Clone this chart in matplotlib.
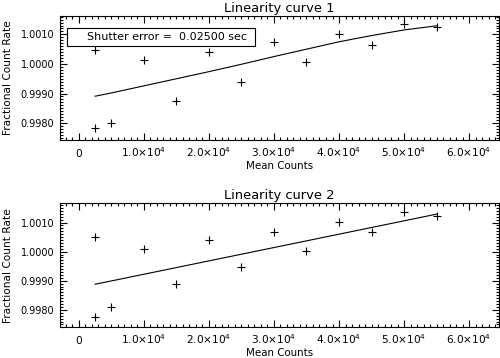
import matplotlib
matplotlib.use("Agg")
import matplotlib.pyplot as plt
from matplotlib.patches import Rectangle
from matplotlib.ticker import MultipleLocator, FuncFormatter

# measurements (mean counts) - same exposures for both curves
counts = [2500, 2500, 5000, 10000, 15000, 20000, 25000, 30000,
          35000, 40000, 45000, 50000, 55000]

rate1 = [1.00047, 0.99783, 0.99799, 1.00014, 0.99875, 1.00040, 0.99940,
         1.00073, 1.00006, 1.00102, 1.00064, 1.00136, 1.00124]
rate2 = [1.00050, 0.99776, 0.99809, 1.00008, 0.99888, 1.00039, 0.99946,
         1.00067, 1.00003, 1.00101, 1.00066, 1.00137, 1.00124]

# model curve for panel 1 (shutter error correction)
fit1_x = [2500, 5000, 10000, 15000, 20000, 25000, 30000, 35000,
          40000, 45000, 50000, 55000]
fit1_y = [0.99891, 0.99902, 0.99926, 0.99950, 0.99974, 0.99999,
          1.00025, 1.00050, 1.00075, 1.00096, 1.00115, 1.00129]

# straight fit for panel 2
fit2_x = [2500, 55000]
fit2_y = [0.99888, 1.00129]

titles = ["Linearity curve 1", "Linearity curve 2"]
yticks = [0.9980, 0.9990, 1.0000, 1.0010]
shutter_text = "Shutter error =  0.02500 sec"

plt.rcParams['font.family'] = ['DejaVu Sans']
plt.rcParams['font.size'] = 7


def xfmt(v, pos):
    if abs(v) < 1:
        return "0"
    return r"%.1f$\times$10$^{4}$" % (v / 1e4)


fig = plt.figure(figsize=(5.0, 3.58), dpi=100)
ax1 = fig.add_axes([0.12, 0.609, 0.878, 0.347])
ax2 = fig.add_axes([0.12, 0.0857, 0.878, 0.347])

panels = [(ax1, rate1, fit1_x, fit1_y, (0.99743, 1.00163)),
          (ax2, rate2, fit2_x, fit2_y, (0.99740, 1.00167))]

for i, (ax, rate, fx, fy, ylim) in enumerate(panels):
    ax.plot(counts, rate, '+', color='black', ms=6, mew=0.8)
    ax.plot(fx, fy, '-', color='black', lw=0.8)
    ax.set_xlim(-2900, 64600)
    ax.set_ylim(*ylim)
    ax.set_title(titles[i], fontsize=9.4, pad=3)
    ax.set_xlabel("Mean Counts", fontsize=7.4, labelpad=1.5)
    ax.set_ylabel("Fractional Count Rate", fontsize=7.6)
    ax.yaxis.set_label_coords(-0.107, 0.5)

    ax.xaxis.set_major_locator(MultipleLocator(10000))
    ax.xaxis.set_minor_locator(MultipleLocator(1000))
    ax.xaxis.set_major_formatter(FuncFormatter(xfmt))
    ax.set_yticks(yticks)
    ax.yaxis.set_minor_locator(MultipleLocator(0.0001))
    ax.yaxis.set_major_formatter(FuncFormatter(lambda v, p: "%.4f" % v))

    ax.tick_params(which='both', direction='in', top=True, right=True,
                   width=0.8)
    ax.tick_params(which='major', length=5)
    ax.tick_params(which='minor', length=2.5)
    ax.tick_params(axis='y', labelsize=7, pad=4)
    ax.tick_params(axis='x', labelsize=7.6, pad=12)
    for s in ax.spines.values():
        s.set_linewidth(0.8)
    # align "0" with the other labels on their baseline
    plt.setp(ax.get_xticklabels(), va='baseline')

# legend box with the shutter error
ax1.add_patch(Rectangle((0.016, 0.756), 0.428, 0.145, transform=ax1.transAxes,
                        fill=False, lw=0.8, edgecolor='black'))
ax1.text(0.0615, 0.83, shutter_text, transform=ax1.transAxes,
         va='center', ha='left', fontsize=8)

plt.savefig("out.png", dpi=100)
